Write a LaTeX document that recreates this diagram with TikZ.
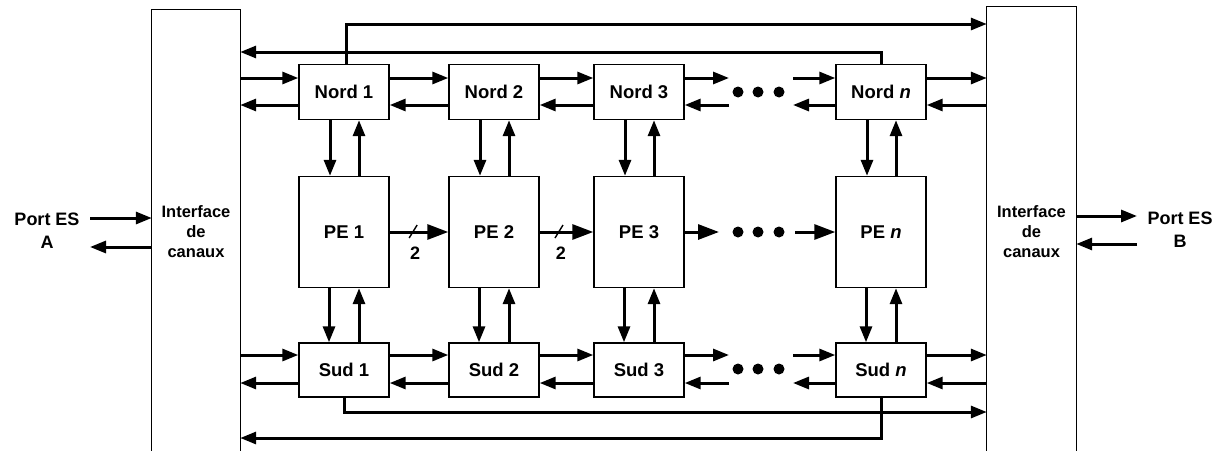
\documentclass[tikz,border=0pt]{standalone}
\usepackage{fontspec}
\setmainfont{Liberation Sans}
\usetikzlibrary{arrows.meta,calc}
\begin{document}
\begin{tikzpicture}[x=1pt,y=-1pt,
  blk/.style={draw,line width=1.4pt,inner sep=0pt,minimum width=90pt,font=\fontsize{18.5}{20}\selectfont\bfseries},
  arr/.style={line width=3pt,-{Triangle[length=16pt,width=12pt]}},
  bigarr/.style={line width=3pt,-{Triangle[length=21pt,width=15pt]}},
  iface/.style={inner sep=0pt,font=\fontsize{16.5}{20}\selectfont\bfseries,align=center},
  port/.style={inner sep=0pt,font=\fontsize{18}{23}\selectfont\bfseries,align=center},
  lab/.style={inner sep=0pt,font=\fontsize{18}{20}\selectfont\bfseries},
  slash/.style={line width=1.4pt},
  bigdot/.style={circle,fill,inner sep=0pt,minimum size=11pt},
  frame/.style={line width=1.3pt}
]
\fill[white] (0,0) rectangle (1223,450);
\useasboundingbox (0,0) rectangle (1223,450);

% interfaces
\node[iface,minimum width=88pt,minimum height=444pt] (IL) at (196,232) {Interface\\de\\canaux};
\node[iface,minimum width=89pt,minimum height=450pt] (IR) at (1031.5,232) {Interface\\de\\canaux};
\draw[frame] (IL.south west) -- (IL.north west) -- (IL.north east) -- (IL.south east);
\draw[frame] (IR.south west) -- (IR.north west) -- (IR.north east) -- (IR.south east);

% ports
\node[port] (PA) at (47,231) {Port ES\\A};
\node[port] (PB) at (1180,230) {Port ES\\B};
\coordinate (pa1) at (90,218);
\coordinate (pa2) at (90,247);
\coordinate (pb1) at (1137,216);
\coordinate (pb2) at (1137,244);
\draw[arr] (pa1) -- (pa1 -| IL.west);
\draw[arr] (pa2 -| IL.west) -- (pa2);
\draw[arr] (pb1 -| IR.east) -- (pb1);
\draw[arr] (pb2) -- (pb2 -| IR.east);

% blocks
\node[blk,minimum height=55pt] (N1) at (344,92) {Nord 1};
\node[blk,minimum height=55pt] (N2) at (494,92) {Nord 2};
\node[blk,minimum height=55pt] (N3) at (639,92) {Nord 3};
\node[blk,minimum height=55pt] (Nn) at (881,92) {Nord \textit{n}};
\node[blk,minimum height=111pt] (P1) at (344,232) {PE 1};
\node[blk,minimum height=111pt] (P2) at (494,232) {PE 2};
\node[blk,minimum height=111pt] (P3) at (639,232) {PE 3};
\node[blk,minimum height=111pt] (Pn) at (881,232) {PE \textit{n}};
\node[blk,minimum height=54pt] (S1) at (344,370) {Sud 1};
\node[blk,minimum height=54pt] (S2) at (494,370) {Sud 2};
\node[blk,minimum height=54pt] (S3) at (639,370) {Sud 3};
\node[blk,minimum height=54pt] (Sn) at (881,370) {Sud \textit{n}};

% row levels and ellipsis ends
\coordinate (NA) at (0,78);
\coordinate (NB) at (0,105);
\coordinate (SA) at (0,355);
\coordinate (SB) at (0,383);
\coordinate (e1) at (729,0);
\coordinate (e2) at (793,0);

\foreach \r/\a/\b in {N/NA/NB, S/SA/SB}{
  \draw[arr] (IL.east |- \a) -- (\r1.west |- \a);
  \draw[arr] (\r1.west |- \b) -- (IL.east |- \b);
  \draw[arr] (\r1.east |- \a) -- (\r2.west |- \a);
  \draw[arr] (\r2.west |- \b) -- (\r1.east |- \b);
  \draw[arr] (\r2.east |- \a) -- (\r3.west |- \a);
  \draw[arr] (\r3.west |- \b) -- (\r2.east |- \b);
  \draw[arr] (\r3.east |- \a) -- (e1 |- \a);
  \draw[arr] (e1 |- \b) -- (\r3.east |- \b);
  \draw[arr] (e2 |- \a) -- (\r n.west |- \a);
  \draw[arr] (\r n.west |- \b) -- (e2 |- \b);
  \draw[arr] (\r n.east |- \a) -- (IR.west |- \a);
  \draw[arr] (IR.west |- \b) -- (\r n.east |- \b);
}
\node[bigdot] (dN1) at (738,92) {};
\node[bigdot] (dN2) at (758,92) {};
\node[bigdot] (dN3) at (779,92) {};
\node[bigdot] (dS1) at (738,369) {};
\node[bigdot] (dS2) at (758,369) {};
\node[bigdot] (dS3) at (779,369) {};
\node[bigdot] (dP1) at (738,232) {};
\node[bigdot] (dP2) at (758,232) {};
\node[bigdot] (dP3) at (779,232) {};

% vertical links
\foreach \k in {1,2,3,n}{
  \draw[arr] ([xshift=-14pt]N\k.south) -- ([xshift=-14pt]P\k.north);
  \draw[arr] ([xshift=15pt]P\k.north) -- ([xshift=15pt]N\k.south);
  \draw[arr] ([xshift=-15pt]P\k.south) -- ([xshift=-15pt]S\k.north);
  \draw[arr] ([xshift=15pt]S\k.north) -- ([xshift=15pt]P\k.south);
}

% PE row
\coordinate (pe1) at (719,232);
\coordinate (pe2) at (795,232);
\draw[bigarr] (P1.east) -- (P2.west);
\draw[bigarr] (P2.east) -- (P3.west);
\draw[bigarr] (P3.east) -- (pe1);
\draw[bigarr] (pe2) -- (Pn.west);
\coordinate (s1) at ($(P1.east)!0.4!(P2.west)$);
\coordinate (s2) at ($(P2.east)!0.36!(P3.west)$);
\draw[slash] ($(s1)+(-4,6)$) -- ($(s1)+(4,-7)$);
\draw[slash] ($(s2)+(-4,6)$) -- ($(s2)+(4,-7)$);
\node[lab] (w1) at ($(s1)+(2,21)$) {2};
\node[lab] (w2) at ($(s2)+(2,21)$) {2};

% loops
\coordinate (T1) at (0,24);
\coordinate (T2) at (0,52);
\coordinate (B1) at (0,412);
\coordinate (B2) at (0,438);
\draw[arr] ([xshift=2pt]N1.north) |- (IR.west |- T1);
\draw[arr] (Nn.north) |- (IL.east |- T2);
\draw[arr] (S1.south) |- (IR.west |- B1);
\draw[arr] (Sn.south) |- (IL.east |- B2);
\end{tikzpicture}
\end{document}
